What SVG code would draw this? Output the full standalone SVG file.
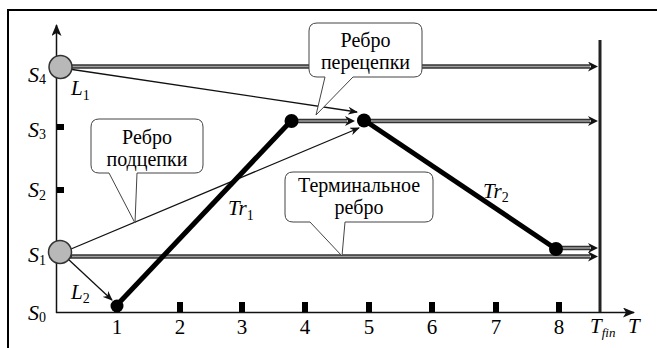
<svg xmlns="http://www.w3.org/2000/svg" width="657" height="348" viewBox="0 0 657 348">
<style>
text{font-family:'Liberation Serif','Times New Roman',serif;fill:#000}
.it{font-style:italic}
.co{font-size:20px;text-anchor:middle}
.num{font-size:21px;text-anchor:middle}
.big{font-size:22px}
.sub{font-size:14px}
.thin{stroke:#111;stroke-width:1.3;fill:none}
.dblo{stroke:#333;stroke-width:4.6;fill:none}
.dbli{stroke:#a0a0a0;stroke-width:1.6;fill:none}
.traj{stroke:#000;stroke-width:5;fill:none}
.box{fill:#fff;stroke:#444;stroke-width:1}
.dot{fill:#000}
.state{fill:#b8b8b8;stroke:#333;stroke-width:1.5}
.tick{fill:#000}
</style>
<defs>
<marker id="ah" viewBox="0 0 10 8" refX="9" refY="4" markerWidth="10" markerHeight="8" markerUnits="userSpaceOnUse" orient="auto">
<path d="M0,0 L10,4 L0,8 L3,4 z" fill="#111"/>
</marker>
<marker id="ahd" viewBox="0 0 10 10" refX="2" refY="5" markerWidth="10" markerHeight="10" markerUnits="userSpaceOnUse" orient="auto">
<path d="M0,0 L10,5 L0,10 L3,5 z" fill="#111"/>
</marker>
<marker id="axa" viewBox="0 0 12 10" refX="11" refY="5" markerWidth="12" markerHeight="10" markerUnits="userSpaceOnUse" orient="auto">
<path d="M0,0 L12,5 L0,10 L3,5 z" fill="#111"/>
</marker>
</defs>
<rect x="8" y="10" width="670" height="360" fill="#fff" stroke="#000" stroke-width="2"/>
<g id="axes">
<line x1="56.5" y1="313" x2="56.5" y2="25" stroke="#111" stroke-width="1.5" marker-end="url(#axa)"/>
<line x1="56" y1="312.5" x2="634" y2="312.5" stroke="#111" stroke-width="1.5" marker-end="url(#axa)"/>
<line x1="600" y1="40" x2="600" y2="312" stroke="#222" stroke-width="3"/>
<rect class="tick" x="57" y="124" width="7" height="6"/>
<rect class="tick" x="57" y="187" width="7" height="6"/>
<rect class="tick" x="114" y="302" width="6" height="10"/>
<rect class="tick" x="177" y="302" width="6" height="10"/>
<rect class="tick" x="239" y="302" width="6" height="10"/>
<rect class="tick" x="302" y="302" width="6" height="10"/>
<rect class="tick" x="366" y="302" width="6" height="10"/>
<rect class="tick" x="429" y="302" width="6" height="10"/>
<rect class="tick" x="493" y="302" width="6" height="10"/>
<rect class="tick" x="556" y="302" width="6" height="10"/>
<text class="num" x="117" y="334">1</text><text class="num" x="180" y="334">2</text><text class="num" x="242" y="334">3</text><text class="num" x="305" y="334">4</text>
<text class="num" x="369" y="334">5</text><text class="num" x="432" y="334">6</text><text class="num" x="496" y="334">7</text><text class="num" x="559" y="334">8</text>
<text class="it" font-size="21" x="590" y="333">T<tspan font-size="13" dy="4">fin</tspan></text>
<text class="it" font-size="21" x="628" y="333">T</text>
<text class="it big" x="28" y="82">S<tspan class="sub" font-style="normal" dy="2">4</tspan></text>
<text class="it big" x="28" y="137">S<tspan class="sub" font-style="normal" dy="2">3</tspan></text>
<text class="it big" x="28" y="197">S<tspan class="sub" font-style="normal" dy="3">2</tspan></text>
<text class="it big" x="28" y="262">S<tspan class="sub" font-style="normal" dy="3">1</tspan></text>
<text class="it big" x="28" y="320">S<tspan class="sub" font-style="normal" dy="2">0</tspan></text>
</g>
<g id="connectors">
<path class="dblo" d="M70,66.5 H590" marker-end="url(#ahd)"/><path class="dbli" d="M72,66.5 H590"/>
<path class="dblo" d="M291,121 H347" marker-end="url(#ahd)"/><path class="dbli" d="M291,121 H347"/>
<path class="dblo" d="M364,121 H590" marker-end="url(#ahd)"/><path class="dbli" d="M364,121 H590"/>
<path class="dblo" d="M556,248 H590" marker-end="url(#ahd)"/><path class="dbli" d="M556,248 H590"/>
<path class="dblo" d="M70,256.5 H590" marker-end="url(#ahd)"/><path class="dbli" d="M72,256.5 H590"/>
<path class="thin" d="M69,69 L357,112" marker-end="url(#ah)"/>
<path class="thin" d="M71,249 L359,128" marker-end="url(#ah)"/>
<path class="thin" d="M68,259 L112,300" marker-end="url(#ah)"/>
<path class="traj" d="M117,305 L291,121"/>
<path class="traj" d="M364,120 L556,249"/>
<text class="it" font-size="21" x="71" y="95">L<tspan font-size="14" font-style="normal" dy="5">1</tspan></text>
<text class="it" font-size="21" x="71" y="299">L<tspan font-size="14" font-style="normal" dy="4">2</tspan></text>
<text class="it" font-size="21" x="228" y="215">Tr<tspan font-size="14" font-style="normal" dy="5">1</tspan></text>
<text class="it" font-size="21" x="483" y="198">Tr<tspan font-size="14" font-style="normal" dy="4">2</tspan></text>
</g>
<g id="node-S4"><circle class="state" cx="60.5" cy="67" r="11.5"/></g>
<g id="node-S1"><circle class="state" cx="60" cy="252" r="11.5"/></g>
<g id="node-1"><circle class="dot" cx="117" cy="306" r="6.5"/></g>
<g id="node-4"><circle class="dot" cx="291.5" cy="121" r="7"/></g>
<g id="node-5"><circle class="dot" cx="364" cy="120.5" r="7"/></g>
<g id="node-8"><circle class="dot" cx="556" cy="249" r="7"/></g>
<g id="callout-perecepki">
<path class="box" d="M317,23 H414 Q422,23 422,31 V69 Q422,77 414,77 H353 L316,115 L325,77 H317 Q309,77 309,69 V31 Q309,23 317,23 Z"/>
<text class="co" x="365.5" y="47">Ребро</text>
<text class="co" x="365.5" y="69">перецепки</text>
</g>
<g id="callout-podcepki">
<path class="box" d="M99,119 H195 Q203,119 203,127 V165 Q203,173 195,173 H137 L135,223 L109,173 H99 Q91,173 91,165 V127 Q91,119 99,119 Z"/>
<text class="co" x="147" y="144">Ребро</text>
<text class="co" x="147" y="166">подцепки</text>
</g>
<g id="callout-terminal">
<path class="box" d="M293,172 H425 Q433,172 433,180 V214 Q433,222 425,222 H345 L342,256 L310,222 H293 Q285,222 285,214 V180 Q285,172 293,172 Z"/>
<text class="co" x="359" y="192">Терминальное</text>
<text class="co" x="359" y="214">ребро</text>
</g>
</svg>
